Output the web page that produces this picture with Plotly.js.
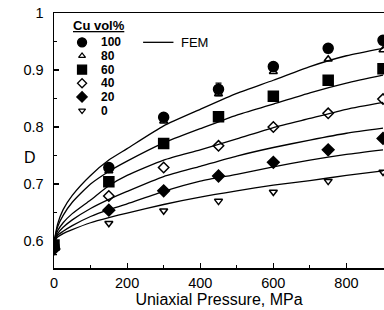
<!DOCTYPE html>
<html>
<head>
<meta charset="utf-8">
<script src="https://cdn.plot.ly/plotly-3.0.1.min.js"></script>
<style>html,body{margin:0;padding:0;background:#fff;}#chart{width:384px;height:310px;}</style>
</head>
<body>
<div id="chart"></div>
<script>
// Experimental data (Uniaxial pressure, MPa -> D)
const pressure = [0, 150, 300, 450, 600, 750, 900];
const cu100 = [0.591, 0.729, 0.817, 0.866, 0.906, 0.938, 0.952];
const cu100Err = [0.015, 0.0, 0.004, 0.011, 0.004, 0.0, 0.0];
const cu80 = [0.594, 0.723, 0.810, 0.858, 0.897, 0.919, 0.935];
const cu60 = [0.593, 0.704, 0.771, 0.818, 0.854, 0.882, 0.902];
const cu40 = [0.589, 0.679, 0.729, 0.767, 0.800, 0.824, 0.849];
const cu20 = [0.586, 0.654, 0.688, 0.714, 0.738, 0.760, 0.780];
const cu0 = [0.590, 0.631, 0.653, 0.670, 0.686, 0.705, 0.721];

// FEM curves
const femP = [0, 10, 25, 50, 100, 150, 200, 300, 400, 500, 600, 700, 800, 900];
const fem1 = [0.598, 0.630, 0.655, 0.680, 0.715, 0.742, 0.762, 0.802, 0.831, 0.859, 0.882, 0.906, 0.925, 0.938];
const fem2 = [0.598, 0.625, 0.645, 0.668, 0.700, 0.722, 0.740, 0.772, 0.797, 0.821, 0.840, 0.860, 0.877, 0.891];
const fem3 = [0.598, 0.618, 0.632, 0.648, 0.672, 0.697, 0.715, 0.742, 0.760, 0.779, 0.799, 0.815, 0.831, 0.843];
const fem4 = [0.598, 0.613, 0.624, 0.637, 0.657, 0.673, 0.687, 0.713, 0.731, 0.749, 0.764, 0.777, 0.789, 0.798];
const fem5 = [0.598, 0.610, 0.617, 0.627, 0.643, 0.655, 0.665, 0.687, 0.705, 0.717, 0.730, 0.742, 0.752, 0.760];
const fem6 = [0.598, 0.607, 0.613, 0.620, 0.632, 0.641, 0.649, 0.664, 0.677, 0.688, 0.698, 0.706, 0.715, 0.723];

const seriesLabels = ['100', '80', '60', '40', '20', '0'];
const seriesData = [cu100, cu80, cu60, cu40, cu20, cu0];
const seriesSymbols = ['circle', 'triangle-up-open', 'square', 'diamond-open', 'diamond', 'triangle-down-open'];
const seriesSizes = [10, 7, 10, 8, 9, 7];

const xTitle = 'Uniaxial Pressure, MPa';
const yTitle = 'D';
const legendTitle = 'Cu vol%';
const femLabel = 'FEM';

const traces = [];
[fem1, fem2, fem3, fem4, fem5, fem6].forEach(function (f) {
  traces.push({x: femP, y: f, mode: 'lines', line: {color: '#000', width: 1.3, shape: 'spline', smoothing: 0.6},
    showlegend: false, hoverinfo: 'skip'});
});
seriesData.forEach(function (d, i) {
  const t = {x: pressure, y: d, mode: 'markers', showlegend: false,
    marker: {symbol: seriesSymbols[i], size: seriesSizes[i], color: '#000', line: {color: '#000', width: 1.5}}};
  if (i === 0) {
    t.error_y = {type: 'data', array: cu100Err, visible: true, color: '#000', thickness: 1.2, width: 3};
  }
  traces.push(t);
});

// legend keys on an overlay axis (0..1 coordinates)
const legX = 0.085, legY0 = 0.885, legStep = 0.0535;
seriesLabels.forEach(function (lab, i) {
  traces.push({x: [legX], y: [legY0 - i * legStep], xaxis: 'x2', yaxis: 'y2', mode: 'markers', showlegend: false,
    hoverinfo: 'skip', cliponaxis: false,
    marker: {symbol: seriesSymbols[i], size: seriesSizes[i] - 1, color: '#000', line: {color: '#000', width: 1.3}}});
});
traces.push({x: [0.270, 0.362], y: [legY0, legY0], xaxis: 'x2', yaxis: 'y2', mode: 'lines', showlegend: false,
  hoverinfo: 'skip', line: {color: '#000', width: 1.3}});

const fam = 'Liberation Sans, Arial';
const annotations = [];
seriesLabels.forEach(function (lab, i) {
  annotations.push({xref: 'paper', yref: 'paper', x: 0.137, y: legY0 - i * legStep, xanchor: 'left', yanchor: 'middle',
    text: '<b>' + lab + '</b>', showarrow: false, font: {family: fam, size: 12, color: '#000'}});
});
annotations.push({xref: 'paper', yref: 'paper', x: 0.052, y: 0.952, xanchor: 'left', yanchor: 'middle',
  text: '<b><u>' + legendTitle + '</u></b>', showarrow: false, font: {family: fam, size: 13, color: '#000'}});
annotations.push({xref: 'paper', yref: 'paper', x: 0.378, y: legY0, xanchor: 'left', yanchor: 'middle',
  text: femLabel, showarrow: false, font: {family: fam, size: 13, color: '#000'}});
annotations.push({xref: 'paper', yref: 'paper', x: -0.05, y: 0.435, xanchor: 'right', yanchor: 'middle',
  text: yTitle, showarrow: false, font: {family: fam, size: 16, color: '#000'}});

const axFont = {family: fam, size: 14.5, color: '#000'};
const layout = {
  width: 384, height: 310,
  margin: {l: 54, r: 0, t: 13, b: 42},
  paper_bgcolor: '#fff', plot_bgcolor: '#fff',
  showlegend: false,
  xaxis: {range: [0, 902.7], tick0: 0, dtick: 200, ticks: 'inside', ticklen: 5, tickwidth: 1.2, tickcolor: '#000',
    minor: {dtick: 100, ticks: 'inside', ticklen: 3, tickwidth: 1, tickcolor: '#000'},
    showline: true, linecolor: '#000', linewidth: 1.5, mirror: true, showgrid: false, zeroline: false,
    tickfont: axFont, ticklabelstandoff: 1,
    title: {text: xTitle, font: {family: fam, size: 16, color: '#000'}, standoff: 2}},
  yaxis: {range: [0.5526, 1.0], tick0: 0.6, dtick: 0.1, ticks: 'inside', ticklen: 5, tickwidth: 1.2, tickcolor: '#000',
    minor: {dtick: 0.05, ticks: 'inside', ticklen: 3, tickwidth: 1, tickcolor: '#000'},
    showline: true, linecolor: '#000', linewidth: 1.5, mirror: true, showgrid: false, zeroline: false,
    tickfont: axFont, ticklabelstandoff: 6},
  xaxis2: {overlaying: 'x', range: [0, 1], visible: false, fixedrange: true},
  yaxis2: {overlaying: 'y', range: [0, 1], visible: false, fixedrange: true},
  annotations: annotations
};
Plotly.newPlot('chart', traces, layout, {staticPlot: true, displayModeBar: false});
</script>
</body>
</html>
